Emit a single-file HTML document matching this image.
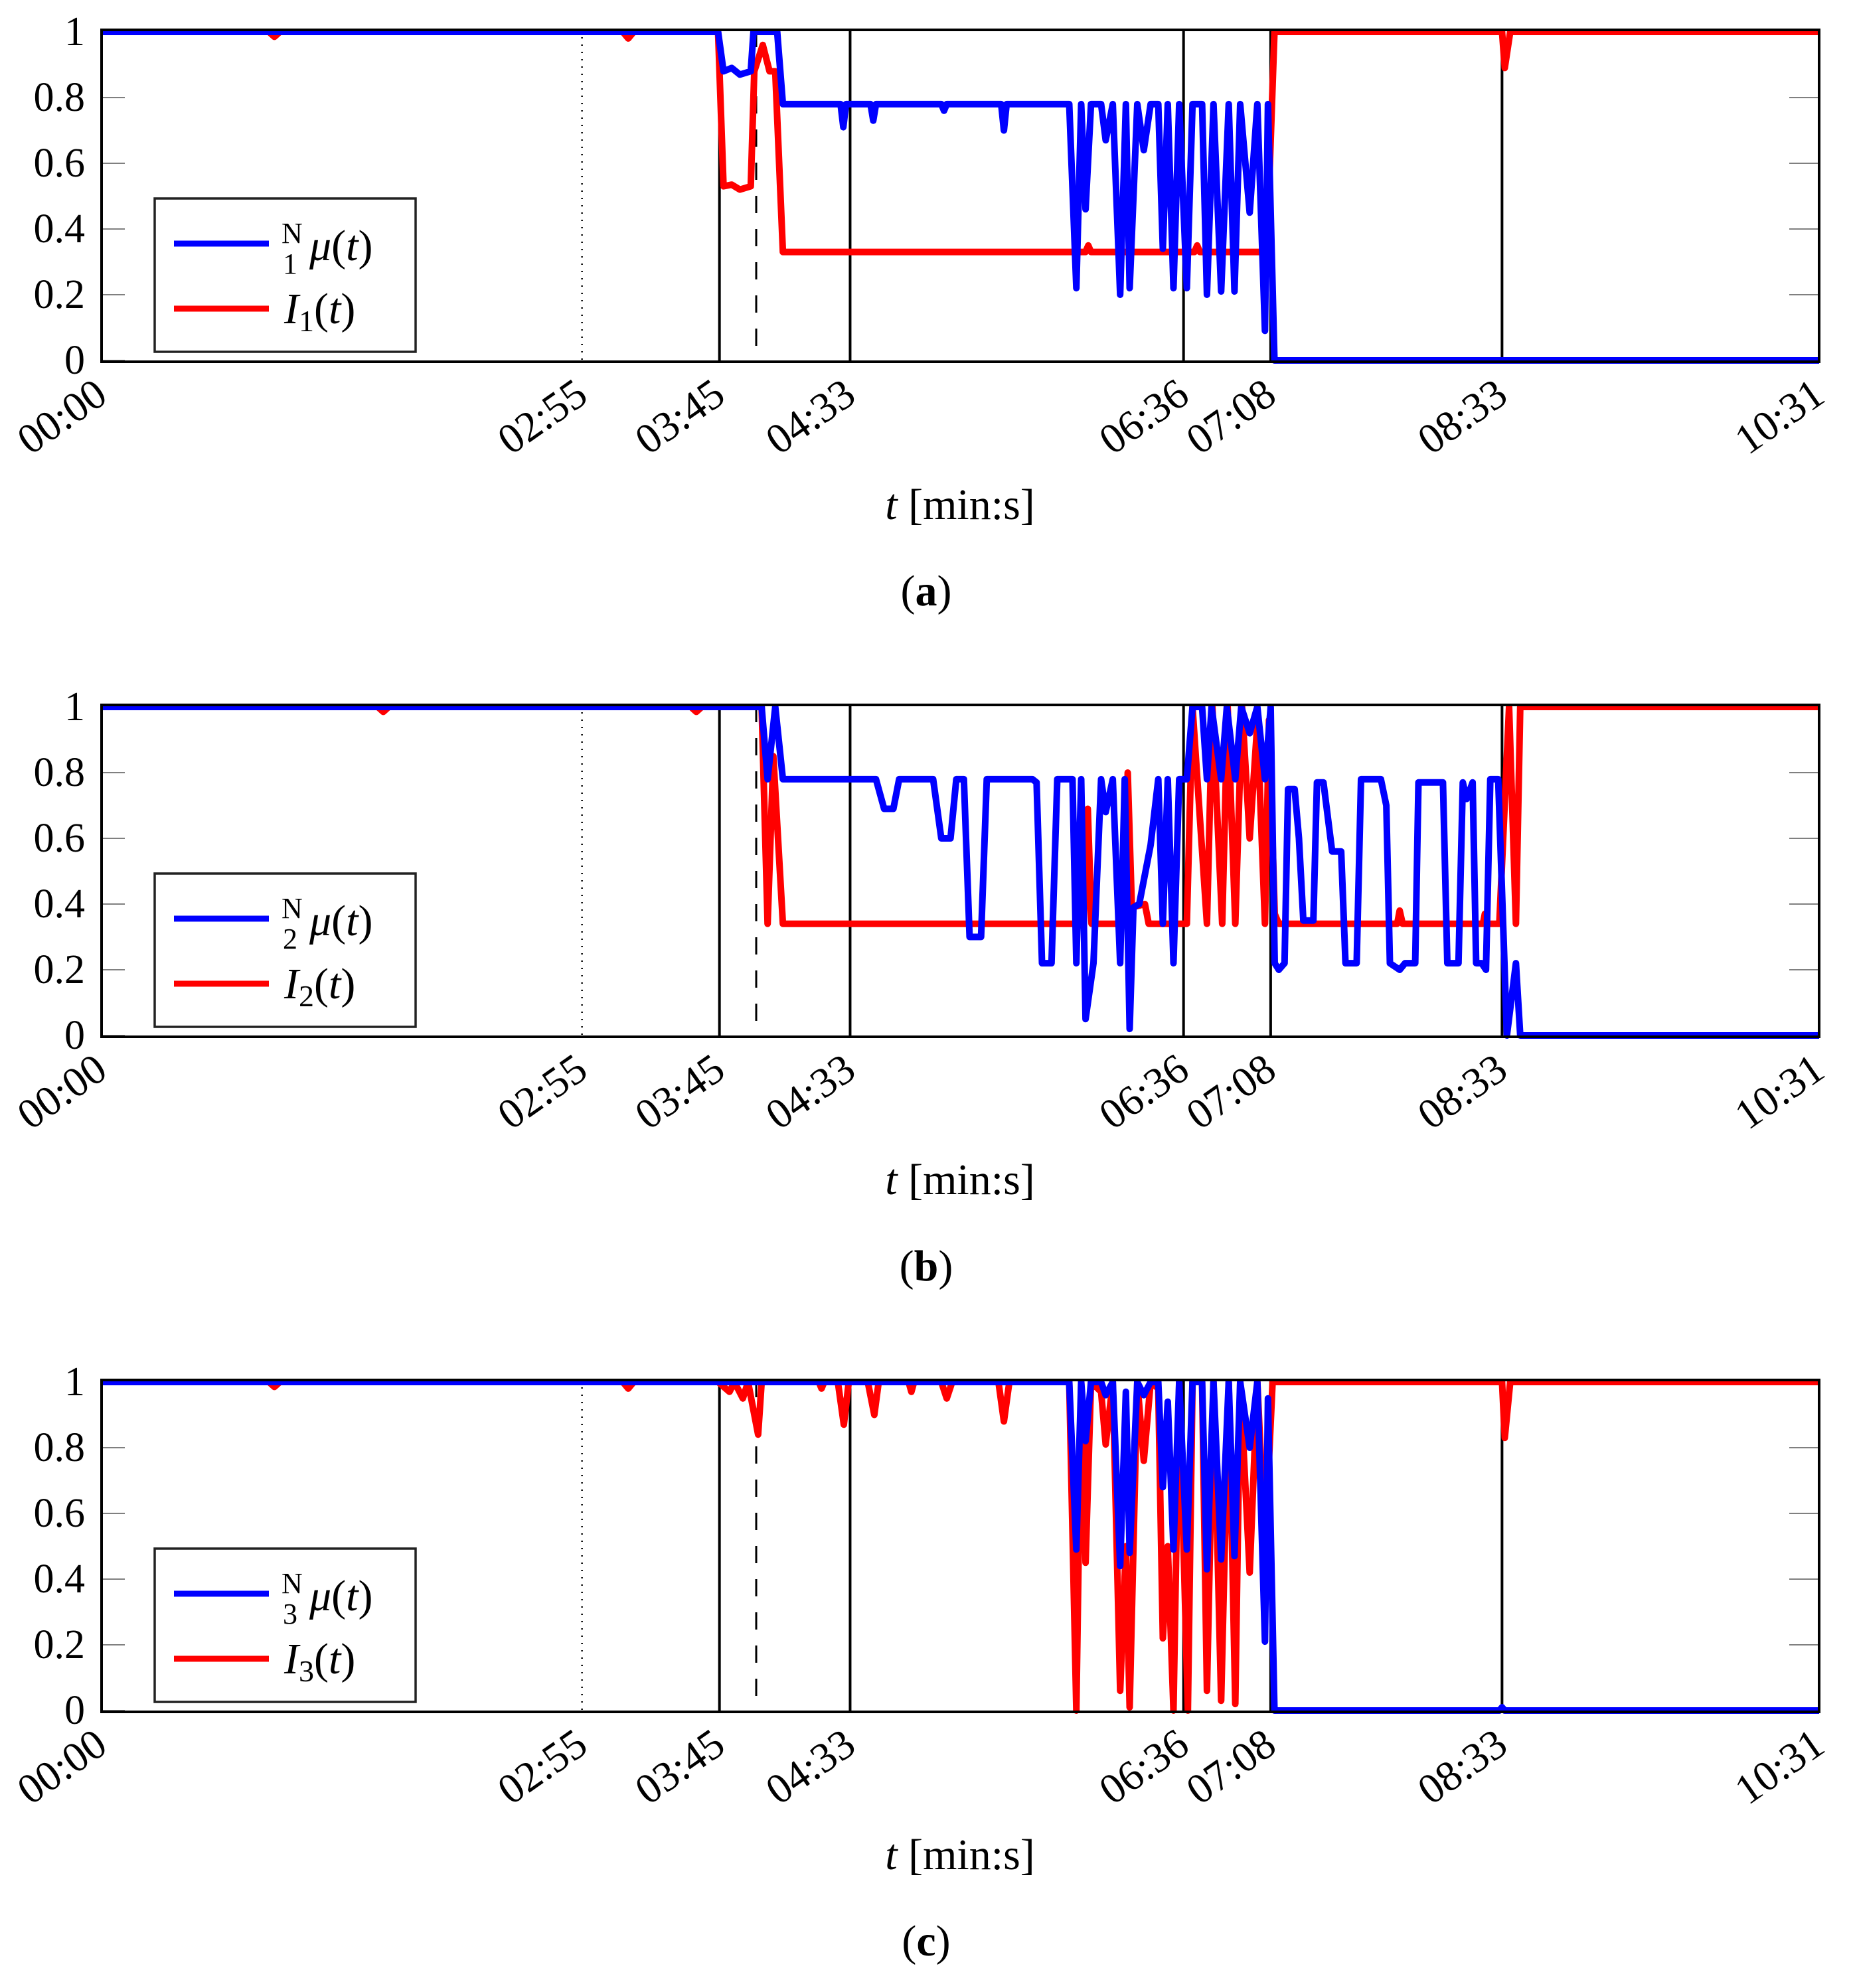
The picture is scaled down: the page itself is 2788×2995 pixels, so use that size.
<!DOCTYPE html>
<html><head><meta charset="utf-8"><style>
html,body{margin:0;padding:0;background:#fff;}
svg{display:block;}
text{font-family:"Liberation Serif","DejaVu Serif",serif;}
</style></head>
<body>
<svg id="fig" width="2788" height="2995" viewBox="0 0 2788 2995" xmlns="http://www.w3.org/2000/svg" font-family="Liberation Serif, serif"></svg>
<script>
// ---- data (time in seconds, value in [0,1]) ----
const yTicks = [0, 0.2, 0.4, 0.6, 0.8, 1];
const yTickLabels = ["0", "0.2", "0.4", "0.6", "0.8", "1"];
const xTicks = [0, 176.5, 227, 275, 397.5, 429.5, 514.5, 631];
const xTickLabels = ["00:00", "02:55", "03:45", "04:33", "06:36", "07:08", "08:33", "10:31"];
const solidMarkers = [227, 275, 397.5, 429.5, 514.5];
const dottedMarker = 176.5;
const dashedMarker = 240.5;

const tA_mu = [0,225,227,230,233,237,238,246.7,248.8,270,271,272,281,282,283,307,308,309,329,330,331,354,356.6,358.4,360,362,365.7,367.4,370,372.7,374.8,376.2,379,381.4,383.9,386.7,388.4,390.2,392.3,394.4,397.2,399.3,402.8,404.6,407,409.8,412.6,414.7,416.8,420.3,423.1,425.9,427,429.4,631];
const vA_mu = [1,1,0.88,0.89,0.87,0.88,1,1,0.78,0.78,0.71,0.78,0.78,0.73,0.78,0.78,0.76,0.78,0.78,0.70,0.78,0.78,0.22,0.78,0.46,0.78,0.78,0.67,0.78,0.2,0.78,0.22,0.78,0.64,0.78,0.78,0.34,0.78,0.22,0.78,0.22,0.78,0.78,0.2,0.78,0.21,0.78,0.21,0.78,0.45,0.78,0.09,0.78,0,0];
const tA_I = [0,60,62,64,190,192,194,225,227,230,233,237,238.3,241.4,243.9,246,248.8,360,361,362,400,401,402,426.6,429.4,513,514,516,631];
const vA_I = [1,1,0.985,1,1,0.98,1,1,0.53,0.535,0.52,0.53,0.88,0.96,0.88,0.88,0.33,0.33,0.35,0.33,0.33,0.35,0.33,0.33,1,1,0.89,1,1];

const tB_mu = [0,241,243.2,246,248.8,283,286,289.4,291.5,304,307,310.4,312.5,315.3,317.4,321.6,323.7,340.5,342,344,347.5,349.6,355.2,356.6,358.4,360,362.9,365.7,367.4,370,372.7,374.4,376.2,377.6,379.7,383.9,386.7,388.4,390.2,392.3,394.4,397.2,399.3,402.8,404.6,406.3,409.8,411.9,415,417.2,420.3,423.1,425.9,428,429.5,431,433.1,434.4,436.8,438.4,440,443.7,445,447.4,450.6,453.9,455.5,459.6,461.2,468.5,470.5,471.8,475.4,477.4,481.1,482.3,491.3,492.9,497,498.6,500,502.2,503.5,505.5,507.1,508.7,511.6,514.8,518.1,519.7,631];
const vB_mu = [1,1,0.78,1,0.78,0.78,0.69,0.69,0.78,0.78,0.6,0.6,0.78,0.78,0.3,0.3,0.78,0.78,0.77,0.22,0.22,0.78,0.78,0.22,0.78,0.05,0.22,0.78,0.68,0.78,0.22,0.78,0.02,0.39,0.4,0.58,0.78,0.34,0.78,0.22,0.78,0.78,1,1,0.78,1,0.78,1,0.78,1,0.92,1,0.78,1,0.22,0.2,0.22,0.75,0.75,0.6,0.35,0.35,0.77,0.77,0.56,0.56,0.22,0.22,0.78,0.78,0.7,0.22,0.2,0.22,0.22,0.77,0.77,0.22,0.22,0.77,0.72,0.77,0.22,0.22,0.2,0.78,0.78,0,0.22,0,0];
const tB_I = [0,100,102,104,215,217,219,241,243.2,245.3,248.8,359.4,360.8,362.2,374.5,375.5,377,381.8,383.2,397.2,399.3,404.6,406.6,410.2,412.2,415,417.5,420.3,423.1,425.9,427.4,429.5,431,474.5,475.4,476.5,506,506.7,507.5,512,515.6,518.1,519.7,631];
const vB_I = [1,1,0.985,1,1,0.985,1,1,0.34,0.85,0.34,0.34,0.69,0.34,0.34,0.8,0.39,0.4,0.34,0.34,1,0.34,1,0.34,1,0.34,1,0.6,0.95,0.34,0.96,0.37,0.34,0.34,0.38,0.34,0.34,0.37,0.34,0.34,1,0.34,1,1];

const tC_mu = [0,354,356.6,358.4,360,362,365.7,367.4,370,372.7,374.8,376.2,379,381.4,383.9,386.7,388.4,390.2,392.3,394.4,397.2,399.3,402.8,404.6,407,409.8,412.6,414.7,416.8,420.3,423.1,425.9,427,429.4,512,513,514,631];
const vC_mu = [1,1,0.49,1,0.82,1,1,0.96,1,0.44,0.97,0.48,1,0.96,1,1,0.68,0.94,0.49,1,0.49,1,1,0.43,1,0.46,1,0.47,1,0.8,1,0.21,0.95,0,0,0.01,0,0];
const tC_I = [0,60,62,64,190,192,194,225,229.2,231,234.1,236,239.7,241,262,263,264,269,271.2,273,280,282.4,284,295,296,297,307,309,311,328,330,332,354,356.6,358.4,360,362,365.7,367.4,370,372.7,374.8,376.2,379,381.4,383.9,386.7,388.4,390.2,392.3,394.4,397.6,399.3,402.8,404.6,407,409.8,412.6,415,416.8,420.3,423.1,425.9,428.7,513,514,516,631];
const vC_I = [1,1,0.985,1,1,0.98,1,1,0.97,1,0.95,1,0.84,1,1,0.98,1,1,0.87,1,1,0.9,1,1,0.97,1,1,0.95,1,1,0.88,1,1,0,1,0.45,1,0.97,0.81,1,0.06,0.5,0.01,1,0.76,1,0.98,0.22,0.5,0,1,0,1,1,0.06,1,0.03,1,0.02,1,0.42,1,0.5,1,1,0.83,1,1];

const panelLetters = ["a", "b", "c"];
const panelIndex = ["1", "2", "3"];

// ---- layout ----
const NS = "http://www.w3.org/2000/svg";
const svg = document.getElementById("fig");
const X0 = 153, X1 = 2740, T0 = 0, T1 = 631;
const DATA_SHIFT = 1.5;
const panelOffsets = [0, 1017, 2034];
function xScale(t){ return X0 + (t - T0) / (T1 - T0) * (X1 - X0); }
function yScale(v, off){ return off + 543 - v * 495; }
function mk(tag, attrs, parent){
  const e = document.createElementNS(NS, tag);
  for (const k in attrs) e.setAttribute(k, attrs[k]);
  (parent || svg).appendChild(e);
  return e;
}
function seriesPath(ts, vs, off){
  const n = Math.min(ts.length, vs.length);
  let d = "";
  for (let i = 0; i < n; i++) {
    const t = Math.min(T1, Math.max(T0, ts[i] + (i > 0 && i < n - 1 ? DATA_SHIFT : 0)));
    d += (i ? "L" : "M") + xScale(t).toFixed(1) + " " + yScale(vs[i], off).toFixed(1);
  }
  return d;
}

const panelSeries = [
  [tA_mu, vA_mu, tA_I, vA_I],
  [tB_mu, vB_mu, tB_I, vB_I],
  [tC_mu, vC_mu, tC_I, vC_I]
];
const FF = '"Liberation Serif", "DejaVu Serif", serif';

panelSeries.forEach((s, p) => {
  const off = panelOffsets[p];
  const g = mk("g", {});
  
  

  yTicks.forEach((v, i) => {
    const y = yScale(v, off);
    const tl = mk("line", {x1: X0, x2: X0 + 35, y1: y, y2: y, stroke: "#808080", "stroke-width": 2}, g);
    
    
    const tr = mk("line", {x1: X1 - 45, x2: X1, y1: y, y2: y, stroke: "#808080", "stroke-width": 2}, g);
    
    
    const lb = mk("text", {x: 128, y: y + 20, "text-anchor": "end", "font-size": 62, fill: "#000", "font-family": FF}, g);
    lb.textContent = yTickLabels[i];
    
    
  });

  solidMarkers.forEach(t => {
    const l = mk("line", {x1: xScale(t), x2: xScale(t), y1: off + 45, y2: off + 545, stroke: "#000", "stroke-width": 4}, g);
    
    
  });
  const dl = mk("line", {x1: xScale(dottedMarker), x2: xScale(dottedMarker), y1: off + 45, y2: off + 545, stroke: "#000", "stroke-width": 2.5, "stroke-dasharray": "2 9"}, g);
  
  
  const dsh = mk("line", {x1: xScale(dashedMarker), x2: xScale(dashedMarker), y1: off + 45, y2: off + 545, stroke: "#000", "stroke-width": 3, "stroke-dasharray": "26 24"}, g);
  
  

  const red = mk("path", {d: seriesPath(s[2], s[3], off), fill: "none", stroke: "#ff0000", "stroke-width": 10, "stroke-linejoin": "round"}, g);
  
  
  const blue = mk("path", {d: seriesPath(s[0], s[1], off), fill: "none", stroke: "#0000ff", "stroke-width": 10, "stroke-linejoin": "round"}, g);
  
  

  const fr = mk("rect", {x: X0, y: off + 45, width: X1 - X0, height: 500, fill: "none", stroke: "#000", "stroke-width": 4}, g);
  
  

  xTicks.forEach((t, i) => {
    const x = xScale(t) + 12, y = off + 603;
    const lb = mk("text", {x: x, y: y, "text-anchor": "end", "font-size": 64, "font-family": FF, transform: "rotate(-35 " + x + " " + y + ")"}, g);
    lb.textContent = xTickLabels[i];
    
    
  });

  const xt = mk("text", {x: 1446, y: off + 782, "text-anchor": "middle", "font-size": 66, "font-family": FF}, g);
  xt.innerHTML = '<tspan font-style="italic">t</tspan> [min:s]';
  
  

  const cp = mk("text", {x: 1395, y: off + 912, "text-anchor": "middle", "font-size": 66, "font-family": FF}, g);
  cp.innerHTML = '(<tspan font-weight="bold">' + panelLetters[p] + '</tspan>)';
  
  

  const lg = mk("g", {}, g);
  
  
  mk("rect", {x: 233, y: off + 299, width: 393, height: 231, fill: "#fff", stroke: "#222", "stroke-width": 3.5}, lg);
  const l1 = mk("line", {x1: 262, x2: 405, y1: off + 367, y2: off + 367, stroke: "#0000ff", "stroke-width": 9}, lg);
  
  
  const t1 = mk("text", {x: 424, y: off + 366, "font-size": 44, "font-family": FF}, lg);
  t1.textContent = "N";
  
  
  const t1b = mk("text", {x: 426, y: off + 412, "font-size": 44, "font-family": FF}, lg);
  t1b.textContent = panelIndex[p];
  
  
  const t1c = mk("text", {x: 466, y: off + 392, "font-size": 66, "font-style": "italic", "font-family": FF}, lg);
  t1c.innerHTML = 'μ<tspan font-style="normal">(</tspan>t<tspan font-style="normal">)</tspan>';
  
  
  const l2 = mk("line", {x1: 262, x2: 405, y1: off + 465, y2: off + 465, stroke: "#ff0000", "stroke-width": 9}, lg);
  
  
  const t2 = mk("text", {x: 428, y: off + 487, "font-size": 66, "font-style": "italic", "font-family": FF}, lg);
  t2.innerHTML = 'I<tspan font-style="normal" font-size="46" dy="12">' + panelIndex[p] + '</tspan><tspan font-style="normal" dy="-12">(</tspan>t<tspan font-style="normal">)</tspan>';
  
  
});
</script>
</body></html>
